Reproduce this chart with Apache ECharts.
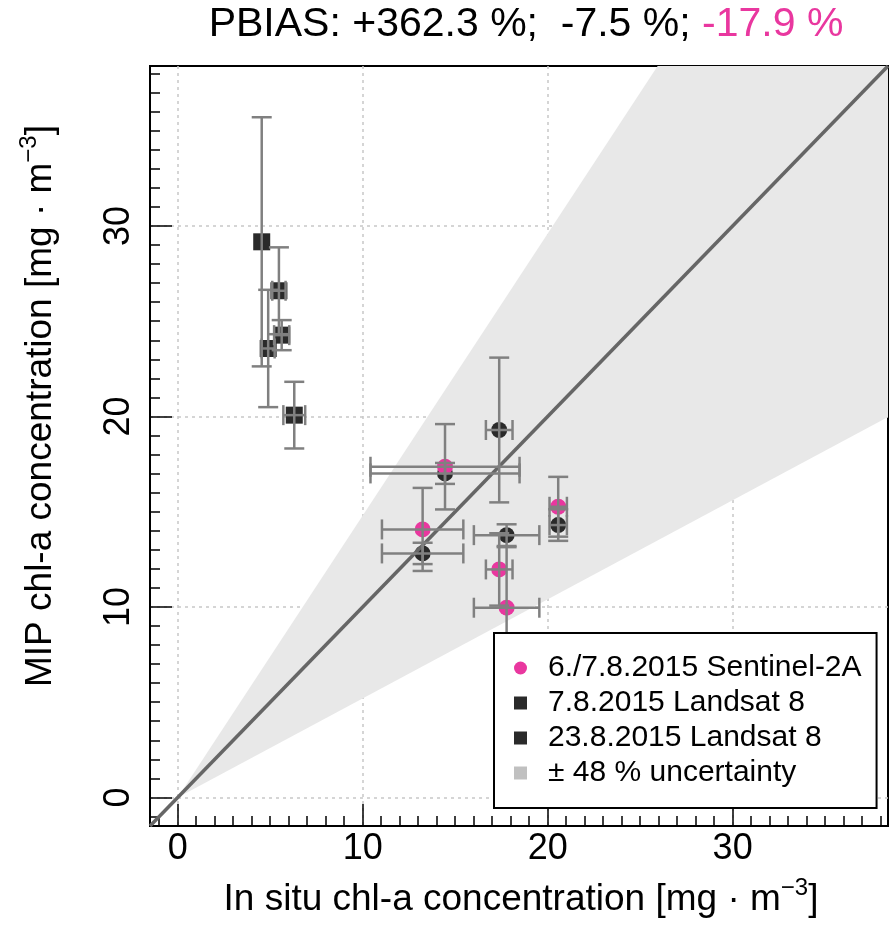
<!DOCTYPE html>
<html>
<head>
<meta charset="utf-8">
<script src="https://cdn.jsdelivr.net/npm/echarts@6/dist/echarts.min.js"></script>
<style>
html,body{margin:0;padding:0;background:#fff;}
#chart{width:895px;height:945px;}
</style>
</head>
<body>
<div id="chart"></div>
<script>
// ---------------- data ----------------
const sentinelName = '6./7.8.2015 Sentinel-2A';
const sentinelX    = [14.45, 13.24, 17.38, 17.78, 20.57];
const sentinelY    = [17.36, 14.07, 11.97,  9.96, 15.26];
const sentinelXErr = [ 4.03,  2.20,  0.72,  1.77,  0.47];
const sentinelYErr = [ 2.24,  2.18,  1.90,  3.18,  1.57];

const landsat7Name = '7.8.2015 Landsat 8';
const landsat7X    = [14.45, 13.24, 17.38, 17.78, 20.57];
const landsat7Y    = [17.01, 12.81, 19.29, 13.77, 14.30];
const landsat7XErr = [ 4.03,  2.20,  0.72,  1.77,  0.47];
const landsat7YErr = [ 0.55,  0.56,  3.80,  0.57,  0.83];

const landsat23Name = '23.8.2015 Landsat 8';
const landsat23X    = [ 4.54,  5.47,  5.62,  4.89,  6.30];
const landsat23Y    = [29.17, 26.60, 24.27, 23.57, 20.07];
const landsat23XErr = [ 0.00,  0.36,  0.41,  0.35,  0.59];
const landsat23YErr = [ 6.54,  2.28,  0.79,  3.08,  1.75];

const bandName = '\u00b1 48 % uncertainty';
const uncertainty = 0.48;
const axisRange = [-1.5, 38.4];
const majorTickValues = [0, 10, 20, 30];

const titleBlack = 'PBIAS: +362.3 %;  -7.5 %; ';
const titlePink = '-17.9 %';
const xTitle = 'In situ chl-a concentration [mg \u00b7 m';
const yTitle = 'MIP chl-a concentration [mg \u00b7 m';
const supText = '\u22123';

// ---------------- helpers ----------------
const FONT = "'Liberation Sans', Arial, sans-serif";
const PINK = '#e9379f';
const DARK = '#2a2a2a';
const ERR = '#808080';

function zip(xs, ys, exs, eys) {
  return xs.map((x, i) => [x, ys[i], exs[i], eys[i]]);
}

function errRender(params, api) {
  const x = api.value(0), y = api.value(1), ex = api.value(2), ey = api.value(3);
  const c = api.coord([x, y]);
  const style = { stroke: ERR, lineWidth: 2.5 };
  const cap = 10;
  const ch = [];
  if (ey > 0) {
    const t = api.coord([x, y + ey]), b = api.coord([x, y - ey]);
    ch.push({ type: 'line', shape: { x1: c[0], y1: t[1], x2: c[0], y2: b[1] }, style });
    ch.push({ type: 'line', shape: { x1: c[0] - cap, y1: t[1], x2: c[0] + cap, y2: t[1] }, style });
    ch.push({ type: 'line', shape: { x1: c[0] - cap, y1: b[1], x2: c[0] + cap, y2: b[1] }, style });
  }
  if (ex > 0) {
    const l = api.coord([x - ex, y]), r = api.coord([x + ex, y]);
    ch.push({ type: 'line', shape: { x1: l[0], y1: c[1], x2: r[0], y2: c[1] }, style });
    ch.push({ type: 'line', shape: { x1: l[0], y1: c[1] - cap, x2: l[0], y2: c[1] + cap }, style });
    ch.push({ type: 'line', shape: { x1: r[0], y1: c[1] - cap, x2: r[0], y2: c[1] + cap }, style });
  }
  return { type: 'group', children: ch };
}

function bandRender(params, api) {
  const m = axisRange[1];
  const pts = [
    api.coord([0, 0]),
    api.coord([m / (1 + uncertainty), m]),
    api.coord([m, m]),
    api.coord([m, m * (1 - uncertainty)])
  ];
  return { type: 'polygon', shape: { points: pts }, style: { fill: '#e8e8e8' } };
}

const squarePath = 'path://M0,0L10,0L10,10L0,10Z';

const baseMajorAxis = {
  type: 'value', min: axisRange[0], max: axisRange[1],
  splitNumber: 4, minInterval: 10, maxInterval: 10,
  axisLine: { show: true, onZero: false, lineStyle: { color: '#000', width: 2 } },
  axisTick: { show: true, inside: true, length: 22, lineStyle: { color: '#000', width: 1.5 } },
  splitLine: { show: true, showMinLine: false, showMaxLine: false,
               lineStyle: { color: '#c8c8c8', width: 1.5, type: [3, 4] } },
};
const baseMinorAxis = {
  type: 'value', min: axisRange[0], max: axisRange[1],
  splitNumber: 40, minInterval: 1, maxInterval: 1,
  axisLine: { show: false, onZero: false },
  axisTick: { show: true, inside: true, length: 10, lineStyle: { color: '#000', width: 1.5 } },
  axisLabel: { show: false },
  splitLine: { show: false }
};
const labelFmt = v => (majorTickValues.indexOf(Math.round(v * 1000) / 1000) >= 0 ? String(v) : '');

const option = {
  animation: false,
  backgroundColor: '#fff',
  grid: { left: 150, top: 66, right: 7, bottom: 119, show: true, borderColor: '#000', borderWidth: 2 },
  xAxis: [
    Object.assign({}, baseMajorAxis, {
      position: 'bottom',
      axisLabel: { formatter: labelFmt, fontSize: 36, fontFamily: FONT, color: '#000', margin: 5 }
    }),
    Object.assign({}, baseMinorAxis, { position: 'bottom' })
  ],
  yAxis: [
    Object.assign({}, baseMajorAxis, {
      position: 'left',
      axisLabel: { formatter: labelFmt, fontSize: 36, fontFamily: FONT, color: '#000', margin: 13, rotate: 90 }
    }),
    Object.assign({}, baseMinorAxis, { position: 'left' })
  ],
  legend: {
    left: 494, top: 633, orient: 'vertical', z: 20,
    padding: [20, 15, 20, 20],
    backgroundColor: '#fff', borderColor: '#000', borderWidth: 2, borderRadius: 0,
    itemWidth: 13, itemHeight: 13, itemGap: 5, selectedMode: false,
    textStyle: { fontSize: 30, fontFamily: FONT, color: '#000', lineHeight: 30, padding: [0, 0, 0, 16] },
    data: [
      { name: sentinelName, icon: 'circle' },
      { name: landsat7Name, icon: squarePath },
      { name: landsat23Name, icon: squarePath },
      { name: bandName, icon: squarePath, itemStyle: { color: '#c0c0c0' } }
    ]
  },
  graphic: [
    {
      type: 'text', x: 526, y: 25, z: 30,
      style: {
        text: '{a|' + titleBlack + '}{b|' + titlePink + '}',
        align: 'center', verticalAlign: 'middle',
        rich: {
          a: { fontSize: 41, fontFamily: FONT, fill: '#000' },
          b: { fontSize: 41, fontFamily: FONT, fill: PINK }
        }
      }
    },
    {
      type: 'text', x: 521, y: 900, z: 30,
      style: {
        text: '{m|' + xTitle + '}{s|' + supText + '}{m|]}',
        align: 'center', verticalAlign: 'middle',
        rich: {
          m: { fontSize: 37, fontFamily: FONT, fill: '#000' },
          s: { fontSize: 24, fontFamily: FONT, fill: '#000', verticalAlign: 'top', padding: [0, 0, 24, 0] }
        }
      }
    },
    {
      type: 'text', x: 41, y: 406, z: 30, rotation: Math.PI / 2,
      style: {
        text: '{m|' + yTitle + '}{s|' + supText + '}{m|]}',
        align: 'center', verticalAlign: 'middle',
        rich: {
          m: { fontSize: 37, fontFamily: FONT, fill: '#000' },
          s: { fontSize: 24, fontFamily: FONT, fill: '#000', verticalAlign: 'top', padding: [0, 0, 24, 0] }
        }
      }
    }
  ],
  series: [
    {
      name: bandName, type: 'custom', renderItem: bandRender, data: [[0, 0]],
      itemStyle: { color: '#e8e8e8' }, silent: true, z: 1
    },
    {
      name: landsat7Name, type: 'scatter', symbol: 'circle', symbolSize: 16,
      itemStyle: { color: DARK, opacity: 1 },
      data: landsat7X.map((x, i) => [x, landsat7Y[i]]), z: 3
    },
    {
      name: landsat23Name, type: 'scatter', symbol: 'rect', symbolSize: 17,
      itemStyle: { color: DARK, opacity: 1 },
      data: landsat23X.map((x, i) => [x, landsat23Y[i]]), z: 3
    },
    {
      name: sentinelName, type: 'scatter', symbol: 'circle', symbolSize: 16,
      itemStyle: { color: PINK, opacity: 1 },
      data: sentinelX.map((x, i) => [x, sentinelY[i]]), z: 4
    },
    {
      name: '1:1', type: 'line', symbol: 'none', silent: true, z: 5,
      lineStyle: { color: '#666', width: 3.5 },
      data: [[axisRange[0], axisRange[0]], [axisRange[1], axisRange[1]]]
    },
    { name: 'errL7', type: 'custom', renderItem: errRender, silent: true, z: 6,
      data: zip(landsat7X, landsat7Y, landsat7XErr, landsat7YErr) },
    { name: 'errL23', type: 'custom', renderItem: errRender, silent: true, z: 6,
      data: zip(landsat23X, landsat23Y, landsat23XErr, landsat23YErr) },
    { name: 'errS2', type: 'custom', renderItem: errRender, silent: true, z: 6,
      data: zip(sentinelX, sentinelY, sentinelXErr, sentinelYErr) }
  ]
};

const chart = echarts.init(document.getElementById('chart'), null, { renderer: 'canvas' });
chart.setOption(option);
</script>
</body>
</html>
